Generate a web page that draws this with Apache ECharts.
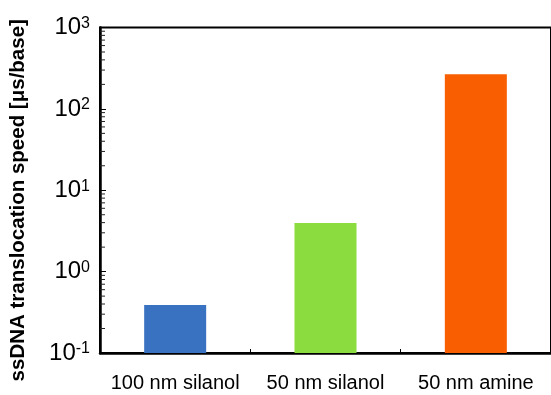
<!DOCTYPE html>
<html>
<head>
<meta charset="utf-8">
<script src="https://cdn.jsdelivr.net/npm/echarts@6/dist/echarts.min.js"></script>
<style>html,body{margin:0;padding:0;background:#fff;}#c{width:551px;height:395px;}</style>
</head>
<body>
<div id="c"></div>
<script>
var categories = ['100 nm silanol', '50 nm silanol', '50 nm amine'];
var speeds = [0.39, 3.95, 267];
var barColors = ['#3a72c2', '#8bdc3e', '#f95f00'];
var yMin = 0.1, yMax = 1000;
var minorTickValues = [0.2,0.3,0.4,0.5,0.6,0.7,0.8,0.9, 2,3,4,5,6,7,8,9, 20,30,40,50,60,70,80,90, 200,300,400,500,600,700,800,900];
var yName = 'ssDNA translocation speed [μs/base]';

var FONT = '"Liberation Sans", Arial, Helvetica, sans-serif';
var chart = echarts.init(document.getElementById('c'), null, {renderer: 'canvas'});
chart.setOption({
  animation: false,
  grid: {left: 97, top: 27.5, right: -3.5, bottom: 42, show: true, borderColor: '#000', borderWidth: 2, backgroundColor: 'transparent'},
  xAxis: {
    type: 'category',
    data: categories,
    axisLine: {lineStyle: {color: '#000', width: 2.5}},
    axisTick: {show: true, inside: true, length: 4, lineStyle: {color: '#000', width: 1}},
    axisLabel: {color: '#000', fontFamily: FONT, fontSize: 20, margin: 20, interval: 0}
  },
  yAxis: {
    type: 'log',
    logBase: 10,
    min: yMin, max: yMax,
    splitNumber: 4,
    splitLine: {show: false},
    axisLine: {show: true, lineStyle: {color: '#000', width: 2.5}},
    axisTick: {show: true, inside: true, length: 6, lineStyle: {color: '#000', width: 1}},
    name: yName,
    nameLocation: 'middle',
    nameGap: 71,
    nameTextStyle: {color: '#000', fontFamily: FONT, fontSize: 20.5, fontWeight: 'bold', padding: [0, 20, 0, 0]},
    axisLabel: {
      margin: 10,
      formatter: function (v) {
        var e = Math.round(Math.log10(v));
        return '{a|10}{b|' + e + '}';
      },
      rich: {
        a: {fontFamily: FONT, fontSize: 24, color: '#000', lineHeight: 24},
        b: {fontFamily: FONT, fontSize: 16, color: '#000', lineHeight: 16, verticalAlign: 'top'}
      }
    }
  },
  series: [
    {
      type: 'custom',
      data: speeds.map(function (v, i) { return [i, v]; }),
      encode: {x: 0, y: 1},
      renderItem: function (params, api) {
        var top = api.coord([api.value(0), api.value(1)]);
        var base = api.coord([api.value(0), yMin]);
        var w = 62;
        return {
          type: 'rect',
          shape: {x: top[0] - w / 2, y: top[1], width: w, height: base[1] - top[1]},
          style: {fill: barColors[params.dataIndex]}
        };
      }
    },
    {
      type: 'custom',
      silent: true,
      clip: false,
      data: minorTickValues.map(function (v) { return [0, v]; }),
      encode: {x: 0, y: 1},
      renderItem: function (params, api) {
        var cs = params.coordSys;
        var y = api.coord([0, api.value(1)])[1];
        return {type: 'line', shape: {x1: cs.x, y1: y, x2: cs.x + 5, y2: y}, style: {stroke: '#222', lineWidth: 1}};
      }
    }
  ]
});
</script>
</body>
</html>
